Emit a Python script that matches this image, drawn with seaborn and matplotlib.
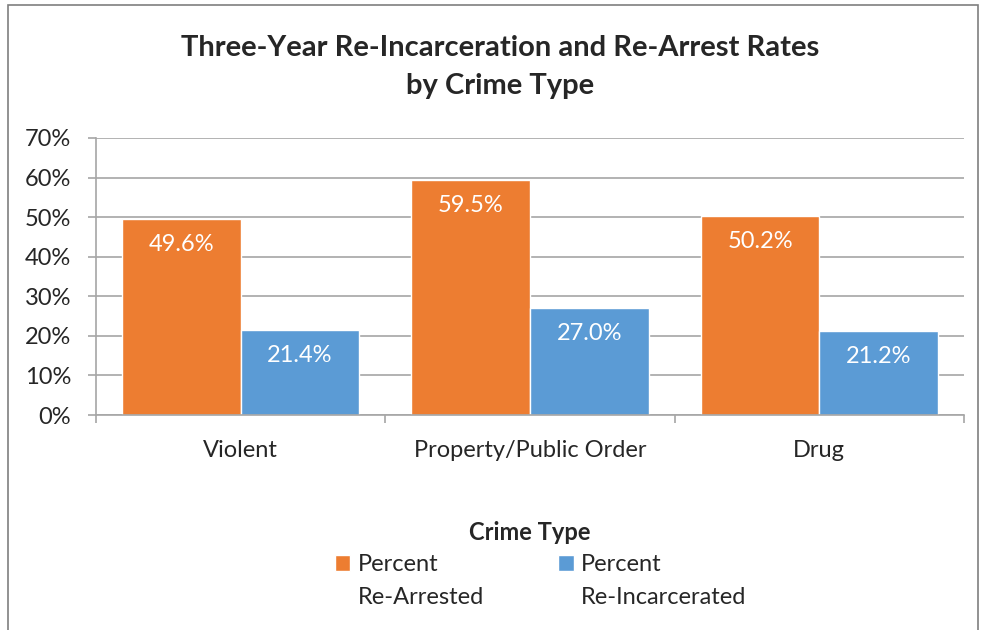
import pandas as pd
import seaborn as sns
import matplotlib.pyplot as plt
from matplotlib.patches import Rectangle, Patch

# Data
crime_types = ["Violent", "Property/Public Order", "Drug"]
re_arrested = [49.6, 59.5, 50.2]
re_incarcerated = [21.4, 27.0, 21.2]
series_names = ["Percent Re-Arrested", "Percent Re-Incarcerated"]
colors = ["#ED7D31", "#5B9BD5"]

df = pd.DataFrame({
    "Crime Type": crime_types * 2,
    "Rate": re_arrested + re_incarcerated,
    "Series": [series_names[0]] * 3 + [series_names[1]] * 3,
})

sns.set_style("white")
plt.rcParams["font.family"] = ["Lato", "DejaVu Sans"]

fig = plt.figure(figsize=(9.84, 6.3), dpi=100)
ax = fig.add_axes([96 / 984, 1 - 415 / 630, 868 / 984, 277 / 630])

sns.barplot(data=df, x="Crime Type", y="Rate", hue="Series",
            order=crime_types, hue_order=series_names,
            palette=colors, width=0.82, saturation=1, legend=False, ax=ax)

# value labels inside bars
for cont in ax.containers:
    for bar in cont:
        h = bar.get_height()
        ax.annotate(f"{h:.1f}%", (bar.get_x() + bar.get_width() / 2, h),
                    xytext=(0, -17), textcoords="offset points",
                    ha="center", va="center_baseline", color="white", fontsize=17)

ax.set_ylim(0, 70)
ax.set_xlim(-0.5, 2.5)
ax.set_yticks(range(0, 71, 10))
ax.set_yticklabels([f"{v}%" for v in range(0, 71, 10)], fontsize=17)
ax.yaxis.grid(True, color="#A6A6A6", linewidth=1.2)
ax.set_axisbelow(True)
ax.set_xlabel("")
ax.set_ylabel("")

ax.set_xticks([0, 1, 2])
ax.set_xticklabels(crime_types, fontsize=17)
ax.set_xticks([-0.5, 0.5, 1.5, 2.5], minor=True)
ax.tick_params(axis="x", which="major", length=0, pad=18)
ax.tick_params(axis="x", which="minor", length=6, width=1.2, color="#A6A6A6",
               direction="out", bottom=True)
ax.tick_params(axis="y", length=6, width=1.2, color="#A6A6A6",
               direction="out", left=True, pad=12)

for side in ["top", "right"]:
    ax.spines[side].set_visible(False)
for side in ["left", "bottom"]:
    ax.spines[side].set_color("#A6A6A6")
    ax.spines[side].set_linewidth(1.2)

fig.text(0.508, 1 - 67 / 630, "Three-Year Re-Incarceration and Re-Arrest Rates\nby Crime Type",
         ha="center", va="center", fontsize=21, fontweight="bold",
         linespacing=1.55)

# legend
fig.text(530 / 984, 1 - 533 / 630, "Crime Type", ha="center", va="center",
         fontsize=17, fontweight="bold")
handles = [Patch(facecolor=c) for c in colors]
leg = fig.legend(handles, ["Percent", "Percent"], ncol=2,
                 loc="upper left", bbox_to_anchor=(335 / 984, 1 - 554 / 630),
                 frameon=False, fontsize=17, handlelength=0.65, handleheight=0.65,
                 handletextpad=0.3, columnspacing=5.1, borderaxespad=0,
                 borderpad=0)
fig.canvas.draw()
inv = fig.transFigure.inverted()
second_lines = ["Re-Arrested", "Re-Incarcerated"]
for t, s in zip(leg.get_texts(), second_lines):
    bb = t.get_window_extent()
    x0, y0 = inv.transform((bb.x0, bb.y0))
    fig.text(x0, y0 - 33 / 630, s, fontsize=17, ha="left", va="bottom")

# chart border
fig.add_artist(Rectangle((8 / 984, -0.05), 970 / 984, 1.05 - 5 / 630,
                         transform=fig.transFigure, fill=False,
                         edgecolor="#7F7F7F", linewidth=1.2))

fig.savefig("out.png", dpi=100)
